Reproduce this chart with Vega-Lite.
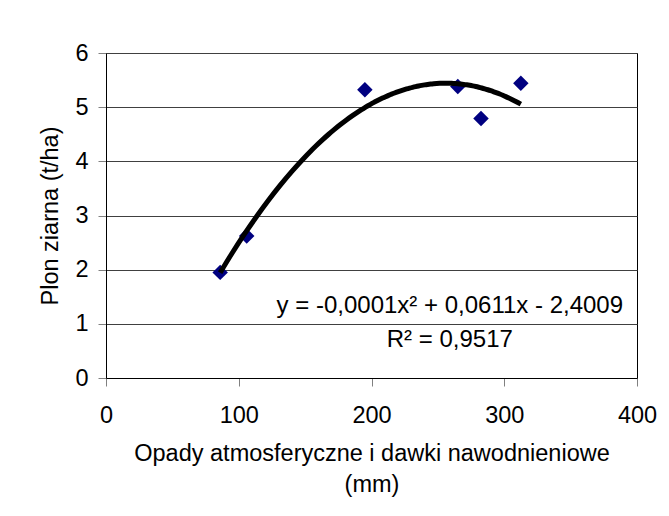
{
  "$schema": "https://vega.github.io/schema/vega-lite/v6.json",
  "width": 531,
  "height": 325,
  "autosize": {"type": "none"},
  "padding": {"left": 106, "top": 53, "right": 32, "bottom": 138},
  "background": "white",
  "config": {
    "font": "Liberation Sans",
    "view": {"stroke": "black", "strokeWidth": 1},
    "axis": {
      "labelFont": "Liberation Sans",
      "titleFont": "Liberation Sans",
      "labelFontSize": 23.5,
      "titleFontSize": 23.5,
      "titleFontWeight": "normal",
      "labelColor": "black",
      "titleColor": "black",
      "labelFlush": false,
      "labelOverlap": false,
      "domainColor": "black",
      "domainWidth": 1,
      "tickColor": "#808080",
      "tickSize": 8,
      "gridColor": "#404040",
      "gridWidth": 1,
      "gridOpacity": 1
    }
  },
  "datasets": {
    "obs": [
      {"opady": 86, "plon": 1.95},
      {"opady": 106, "plon": 2.62},
      {"opady": 195, "plon": 5.32},
      {"opady": 265, "plon": 5.38},
      {"opady": 282.5, "plon": 4.79},
      {"opady": 312.5, "plon": 5.44}
    ],
    "labels": [
      {"x": 259, "y": 1.33, "text": "y = -0,0001x² + 0,0611x - 2,4009"},
      {"x": 259, "y": 0.70, "text": "R² = 0,9517"}
    ]
  },
  "layer": [
    {
      "data": {"name": "obs"},
      "mark": {"type": "point", "shape": "diamond", "filled": true, "color": "#000080", "opacity": 1, "size": 240},
      "encoding": {
        "x": {
          "field": "opady", "type": "quantitative",
          "scale": {"domain": [0, 400], "nice": false, "zero": true},
          "axis": {
            "values": [0, 100, 200, 300, 400],
            "format": "d",
            "grid": false,
            "labelPadding": 17,
            "titlePadding": 15,
            "titleLineHeight": 31,
            "title": ["Opady atmosferyczne i dawki nawodnieniowe", "(mm)"]
          }
        },
        "y": {
          "field": "plon", "type": "quantitative",
          "scale": {"domain": [0, 6], "nice": false},
          "axis": {
            "values": [0, 1, 2, 3, 4, 5, 6],
            "format": "d",
            "grid": true,
            "labelPadding": 10,
            "titlePadding": 12,
            "title": "Plon ziarna (t/ha)"
          }
        }
      }
    },
    {
      "data": {"name": "obs"},
      "transform": [
        {"regression": "plon", "on": "opady", "method": "poly", "order": 2}
      ],
      "mark": {"type": "line", "color": "black", "strokeWidth": 5, "interpolate": "monotone"},
      "encoding": {
        "x": {"field": "opady", "type": "quantitative"},
        "y": {"field": "plon", "type": "quantitative"}
      }
    },
    {
      "data": {"name": "labels"},
      "mark": {"type": "text", "fontSize": 24, "font": "Liberation Sans", "color": "black", "align": "center", "baseline": "middle"},
      "encoding": {
        "x": {"field": "x", "type": "quantitative"},
        "y": {"field": "y", "type": "quantitative"},
        "text": {"field": "text"}
      }
    }
  ]
}
